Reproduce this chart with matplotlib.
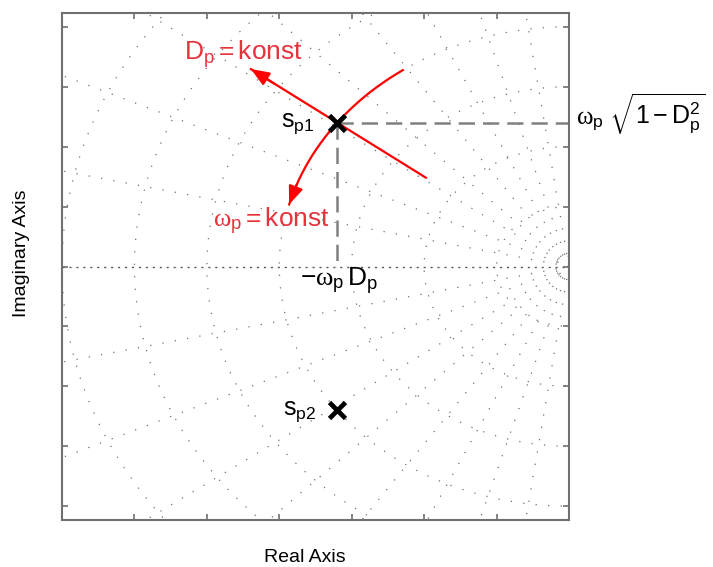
import numpy as np
import matplotlib
matplotlib.use('Agg')
import matplotlib.pyplot as plt

plt.rcParams['font.family'] = ['Liberation Sans', 'DejaVu Sans']
plt.rcParams['mathtext.fontset'] = 'custom'
plt.rcParams['mathtext.rm'] = 'Liberation Sans'
plt.rcParams['mathtext.it'] = 'Liberation Serif'
plt.rcParams['mathtext.bf'] = 'Liberation Sans:bold'

# ---------------- data ----------------
pole_re = [-3.2, -3.2]
pole_im = [2.4, -2.4]
pole_labels = [r'$\mathrm{s_{p1}}$', r'$\mathrm{s_{p2}}$']
zeta_grid = [0.14, 0.28, 0.42, 0.56, 0.70, 0.81, 0.91, 0.975]
wn_grid = [0.17, 1, 2, 3, 4, 5, 6, 7]
wn_p = 4.0
D_p = 0.8
D_arrow_r = [2.47, 5.49]          # radial extent of the "D = konst" arrow
wn_arc_deg = [55.0, 15.0]         # angular extent of the "omega = konst" arrow
x_lim = [-7.0, 0.0]
y_lim = [-4.23, 4.23]
x_ticks = [-7, -6, -5, -4, -3, -2, -1, 0]
y_ticks = [-4, -3, -2, -1, 0, 1, 2, 3, 4]

RED_TXT = '#e8323c'
GRID = '#707070'
SPINE = '#707070'

fig = plt.figure(figsize=(7.13, 5.67), dpi=100)
ax = fig.add_axes([62 / 713, 47 / 567, 507 / 713, 507 / 567])

# s-plane grid: constant damping rays
Rmax = 12.0
for z in zeta_grid:
    s = np.sqrt(1 - z ** 2)
    for sgn in (1, -1):
        ax.plot([0, -Rmax * z], [0, sgn * Rmax * s], color=GRID, lw=0.9,
                ls=(0, (1, 9)), zorder=1)
# constant natural frequency circles
t = np.linspace(np.pi / 2, 3 * np.pi / 2, 600)
for w in wn_grid:
    ax.plot(w * np.cos(t), w * np.sin(t), color=GRID, lw=0.9,
            ls=(0, (1, 9)), zorder=1)
# real axis
ax.plot([x_lim[0], 0], [0, 0], color='#555555', lw=1.0, ls=(0, (1.5, 3.5)), zorder=1)

# dashed projection lines
ax.plot([pole_re[0], 0], [pole_im[0], pole_im[0]], color='#808080', lw=1.8,
        dashes=(6.5, 3.2), zorder=2)
ax.plot([pole_re[0], pole_re[0]], [pole_im[0], 0], color='#808080', lw=1.8,
        dashes=(6.5, 3.2), zorder=2)

# D = konst arrow (along the damping ray)
sd = np.sqrt(1 - D_p ** 2)
r = np.linspace(D_arrow_r[0], D_arrow_r[1], 50)
ax.plot(-D_p * r, sd * r, color='red', lw=1.6, zorder=3)
r_tip = D_arrow_r[1]
ax.annotate('', xy=(-D_p * r_tip, sd * r_tip),
            xytext=(-D_p * (r_tip - 0.4), sd * (r_tip - 0.4)),
            arrowprops=dict(arrowstyle='-|>,head_length=0.55,head_width=0.22',
                            mutation_scale=20, color='red', lw=1.6,
                            shrinkA=0, shrinkB=0), zorder=3)

# omega = konst arrow (along the circle)
th = np.radians(np.linspace(wn_arc_deg[0], wn_arc_deg[1], 200))
ax.plot(-wn_p * np.cos(th), wn_p * np.sin(th), color='red', lw=1.6, zorder=3)
th_tip = np.radians(wn_arc_deg[1])
th_b = np.radians(wn_arc_deg[1] + 5)
ax.annotate('', xy=(-wn_p * np.cos(th_tip), wn_p * np.sin(th_tip)),
            xytext=(-wn_p * np.cos(th_b), wn_p * np.sin(th_b)),
            arrowprops=dict(arrowstyle='-|>,head_length=0.55,head_width=0.22',
                            mutation_scale=20, color='red', lw=1.6,
                            shrinkA=0, shrinkB=0), zorder=3)

# poles
ax.plot(pole_re, pole_im, 'x', color='black', ms=12, mew=3.4, zorder=5)

# labels of poles
ax.text(-3.52, 2.33, pole_labels[0], fontsize=18, ha='right', va='baseline', zorder=6)
ax.text(-3.49, -2.47, pole_labels[1], fontsize=18, ha='right', va='baseline', zorder=6)

# red annotations
ax.text(-5.32, 3.45, r'$\mathrm{D_p}=\mathrm{konst}$', fontsize=19, color=RED_TXT,
        ha='left', va='baseline', zorder=6)
ax.text(-4.92, 0.65, r'$\omega_\mathrm{p}=\mathrm{konst}$', fontsize=19, color=RED_TXT,
        ha='left', va='baseline', zorder=6)

# black formula labels
ax.text(-3.72, -0.33, r'$-\omega_\mathrm{p}\,\mathrm{D_p}$', fontsize=19,
        ha='left', va='baseline', zorder=6)
ax.text(0.10, 2.37, r'$\omega_\mathrm{p}\ \sqrt{\mathrm{1-D_p^2}}$', fontsize=18,
        ha='left', va='baseline', clip_on=False, zorder=6)

ax.set_xlim(x_lim)
ax.set_ylim(y_lim)
ax.set_xticks(x_ticks)
ax.set_yticks(y_ticks)
ax.tick_params(direction='in', length=4, width=1.2, color=SPINE,
               top=True, right=True, labelbottom=False, labelleft=False)
for sp in ax.spines.values():
    sp.set_color(SPINE)
    sp.set_linewidth(1.5)

fig.text(305 / 713, 1 - 558 / 567, 'Real Axis', fontsize=14, ha='center', va='center')
fig.text(22 / 713, 1 - 253 / 567, 'Imaginary Axis', fontsize=14, ha='center',
         va='center', rotation=90)

fig.savefig('out.png', dpi=100)
